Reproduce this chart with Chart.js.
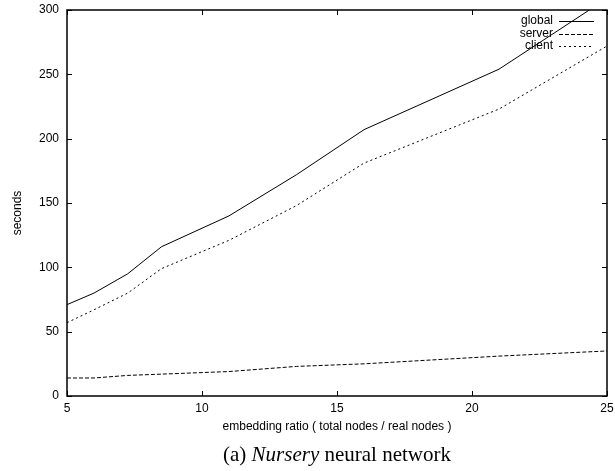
<!DOCTYPE html>
<html>
<head>
<meta charset="utf-8">
<script src="https://cdn.jsdelivr.net/npm/chart.js@4"></script>
<style>
  html, body { margin: 0; padding: 0; background: #fff; }
  #wrap { position: relative; width: 615px; height: 471px; }
  #caption {
    position: absolute; left: 0; width: 674px; top: 442px;
    text-align: center; font: 21px "Liberation Serif", serif; color: #000;
    line-height: 24px;
  }
</style>
</head>
<body>
<div id="wrap">
  <canvas id="chart" width="615" height="471"></canvas>
  <div id="caption">(a) <i>Nursery</i> neural network</div>
</div>
<script>
// ── data ────────────────────────────────────────────────────────────────
const ratios = [5, 6, 7.25, 8.5, 11, 13.5, 16, 21, 25];
const globalTimes = [71, 80, 95, 116, 140, 172, 207, 254, 309];
const serverTimes = [14, 14, 16, 17, 19, 23, 25, 31, 35];
const clientTimes = [57, 67, 80, 99, 121, 148, 181, 223, 272];
const xTicks = [5, 10, 15, 20, 25];
const yTicks = [0, 50, 100, 150, 200, 250, 300];

const FONT = '"Liberation Sans", Arial, sans-serif';

const toPoints = ys => ratios.map((x, i) => ({ x, y: ys[i] }));

// frame, inward ticks, axis titles, gnuplot-ish legend
const framePlugin = {
  id: 'frame',
  afterDraw(chart) {
    const { ctx, chartArea: a, scales } = chart;
    ctx.save();
    ctx.strokeStyle = '#000';
    ctx.lineWidth = 1.5;
    ctx.strokeRect(a.left, a.top, a.right - a.left, a.bottom - a.top);

    ctx.lineWidth = 1;
    const t = 5;
    ctx.beginPath();
    xTicks.forEach(v => {
      const px = Math.round(scales.x.getPixelForValue(v)) + 0.5;
      ctx.moveTo(px, a.bottom); ctx.lineTo(px, a.bottom - t);
      ctx.moveTo(px, a.top); ctx.lineTo(px, a.top + t);
    });
    yTicks.forEach(v => {
      const py = Math.round(scales.y.getPixelForValue(v)) + 0.5;
      ctx.moveTo(a.left, py); ctx.lineTo(a.left + t, py);
      ctx.moveTo(a.right, py); ctx.lineTo(a.right - t, py);
    });
    ctx.stroke();

    // axis titles
    ctx.fillStyle = '#000';
    ctx.font = '12px ' + FONT;
    ctx.textAlign = 'center';
    ctx.textBaseline = 'middle';
    ctx.fillText('embedding ratio ( total nodes / real nodes )', (a.left + a.right) / 2, 427);
    ctx.save();
    ctx.translate(18, 213);
    ctx.rotate(-Math.PI / 2);
    ctx.fillText('seconds', 0, 0);
    ctx.restore();

    // legend
    ctx.textAlign = 'right';
    chart.data.datasets.forEach((ds, i) => {
      const y = 21 + i * 12.5;
      ctx.fillText(ds.label, 553, y);
      ctx.beginPath();
      ctx.setLineDash(ds.borderDash || []);
      ctx.moveTo(559, Math.round(y) + 0.5);
      ctx.lineTo(594, Math.round(y) + 0.5);
      ctx.stroke();
    });
    ctx.restore();
  }
};

const noPad = s => { s.paddingLeft = 0; s.paddingRight = 0; s.paddingTop = 0; s.paddingBottom = 0; };

new Chart(document.getElementById('chart'), {
  type: 'line',
  data: {
    datasets: [
      { label: 'global', data: toPoints(globalTimes), borderDash: [] },
      { label: 'server', data: toPoints(serverTimes), borderDash: [4, 2] },
      { label: 'client', data: toPoints(clientTimes), borderDash: [2, 3] },
    ].map(d => Object.assign(d, {
      borderColor: '#000', borderWidth: 1, pointRadius: 0, tension: 0, fill: false,
    })),
  },
  options: {
    responsive: false,
    animation: false,
    layout: { padding: { left: 0, right: 8, top: 10, bottom: 0 } },
    plugins: { legend: { display: false }, tooltip: { enabled: false } },
    scales: {
      x: {
        type: 'linear', min: 5, max: 25,
        afterBuildTicks: s => { s.ticks = xTicks.map(value => ({ value })); },
        afterFit: s => { s.height = 75; noPad(s); },
        grid: { display: false, drawTicks: false },
        border: { display: false },
        ticks: { color: '#000', padding: 5, font: { family: FONT, size: 12 }, maxRotation: 0 },
      },
      y: {
        min: 0, max: 300,
        afterBuildTicks: s => { s.ticks = yTicks.map(value => ({ value })); },
        afterFit: s => { s.width = 67; noPad(s); },
        grid: { display: false, drawTicks: false },
        border: { display: false },
        ticks: { color: '#000', padding: 8, font: { family: FONT, size: 12 } },
      },
    },
  },
  plugins: [framePlugin],
});
</script>
</body>
</html>
